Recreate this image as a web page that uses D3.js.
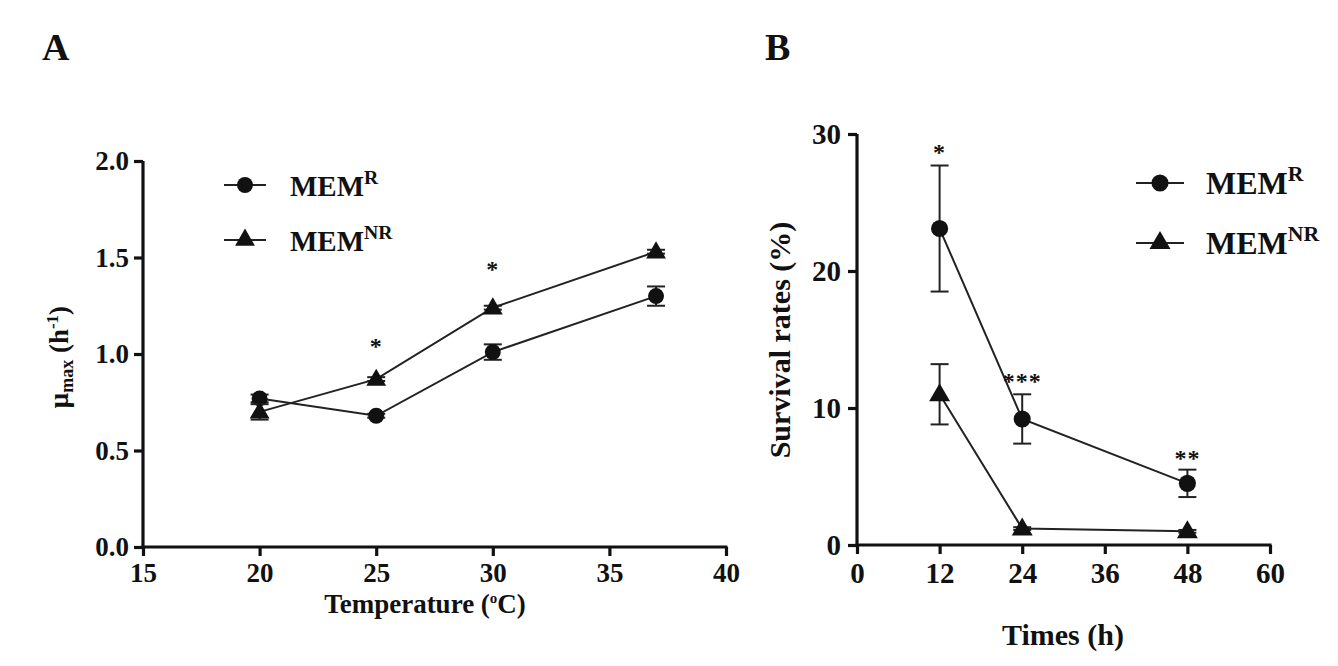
<!DOCTYPE html>
<html>
<head>
<meta charset="utf-8">
<script src="https://cdn.jsdelivr.net/npm/d3@7/dist/d3.min.js"></script>
<style>
  body { margin: 0; background: #fff; }
  text { font-family: "Liberation Serif", "Times New Roman", serif; font-weight: bold; fill: #111; }
</style>
</head>
<body>
<div id="chart"></div>
<script>
// panel A: growth rate vs temperature
var tempX = [20, 25, 30, 37];
var rMu = [0.77, 0.68, 1.01, 1.30];
var rMuErr = [0.02, 0.01, 0.04, 0.05];
var nrMu = [0.70, 0.87, 1.24, 1.53];
var nrMuErr = [0.04, 0.01, 0.01, 0.01];
var starsA = [{x: 25, y: 1.0, t: "*"}, {x: 30, y: 1.40, t: "*"}];
var tempTicks = [15, 20, 25, 30, 35, 40];
var muTicks = [0.0, 0.5, 1.0, 1.5, 2.0];

// panel B: survival vs time
var timeX = [12, 24, 48];
var rSurv = [23.1, 9.2, 4.5];
var rSurvErr = [4.6, 1.8, 1.0];
var nrSurv = [11.0, 1.2, 1.0];
var nrSurvErr = [2.2, 0.1, 0.1];
var starsB = [{x: 12, y: 28.1, t: "*"}, {x: 24, y: 11.4, t: "***"}, {x: 48, y: 5.8, t: "**"}];
var timeTicks = [0, 12, 24, 36, 48, 60];
var survTicks = [0, 10, 20, 30];

var W = 1338, H = 666;
var svg = d3.select("#chart").append("svg")
    .attr("width", W).attr("height", H);

function panel(o) {
    var x = d3.scaleLinear().domain(o.xdom).range([o.left, o.right]);
    var y = d3.scaleLinear().domain(o.ydom).range([o.bottom, o.top]);
    var g = svg.append("g");

    var xa = g.append("g").attr("transform", "translate(0," + o.bottom + ")")
        .call(d3.axisBottom(x).tickValues(o.xticks).tickSize(9).tickSizeOuter(0).tickPadding(o.xpad));
    var ya = g.append("g").attr("transform", "translate(" + o.left + ",0)")
        .call(d3.axisLeft(y).tickValues(o.yticks).tickSize(9).tickSizeOuter(0).tickPadding(o.ypad).tickFormat(o.yfmt));
    [xa, ya].forEach(function(a) {
        a.select(".domain").attr("stroke", "#111").attr("stroke-width", 3.2);
        a.selectAll(".tick line").attr("stroke", "#111").attr("stroke-width", 3.2);
        a.selectAll(".tick text").attr("font-size", o.tickFont).attr("fill", "#111")
            .attr("font-family", "Liberation Serif").attr("font-weight", "bold");
    });
    ya.select(".domain").attr("d", "M0," + (o.bottom + 1.5) + "V" + o.top);
    xa.select(".domain").attr("d", "M" + (o.left - 1.5) + ",0H" + (o.right + 1.5));

    var line = d3.line().x(function(d) { return x(d[0]); }).y(function(d) { return y(d[1]); });

    o.series.forEach(function(s) {
        var pts = o.xs.map(function(v, i) { return [v, s.v[i], s.e[i]]; });
        g.append("path").datum(pts).attr("d", line)
            .attr("fill", "none").attr("stroke", "#222").attr("stroke-width", 2);
        var eb = g.selectAll(null).data(pts).enter().append("g");
        eb.append("line")
            .attr("x1", function(d) { return x(d[0]); }).attr("x2", function(d) { return x(d[0]); })
            .attr("y1", function(d) { return y(d[1] + d[2]); }).attr("y2", function(d) { return y(d[1] - d[2]); })
            .attr("stroke", "#222").attr("stroke-width", 2);
        [1, -1].forEach(function(sg) {
            eb.append("line")
                .attr("x1", function(d) { return x(d[0]) - 9; }).attr("x2", function(d) { return x(d[0]) + 9; })
                .attr("y1", function(d) { return y(d[1] + sg * d[2]); }).attr("y2", function(d) { return y(d[1] + sg * d[2]); })
                .attr("stroke", "#222").attr("stroke-width", 2);
        });
        g.selectAll(null).data(pts).enter().append("path")
            .attr("d", d3.symbol().type(s.sym).size(s.size))
            .attr("transform", function(d) { return "translate(" + x(d[0]) + "," + (y(d[1]) + (s.sym === d3.symbolTriangle ? 1 : 0)) + ")"; })
            .attr("fill", "#111");
    });

    g.selectAll(null).data(o.stars).enter().append("text")
        .attr("x", function(d) { return x(d.x); })
        .attr("y", function(d) { return y(d.y); })
        .attr("text-anchor", "middle").attr("font-size", 24).attr("font-weight", "normal")
        .attr("fill", "#333").attr("letter-spacing", 1)
        .text(function(d) { return d.t; });

    // legend
    o.series.forEach(function(s, i) {
        var ly = o.legY + i * o.legGap;
        g.append("line").attr("x1", o.legX).attr("x2", o.legX + o.legLen)
            .attr("y1", ly).attr("y2", ly).attr("stroke", "#222").attr("stroke-width", 2);
        g.append("path").attr("d", d3.symbol().type(s.sym).size(s.size))
            .attr("transform", "translate(" + (o.legX + o.legLen / 2) + "," + ly + ")").attr("fill", "#111");
        var t = g.append("text").attr("x", o.legX + o.legLen + o.legPad).attr("y", ly + 11)
            .attr("font-size", o.legFont);
        t.append("tspan").text("MEM");
        t.append("tspan").attr("font-size", o.legFont * 0.68).attr("dy", -o.legFont * 0.4).text(s.sup);
    });

    // axis titles
    var xt = g.append("text").attr("x", o.xlabX).attr("y", o.xlabY)
        .attr("text-anchor", "middle").attr("font-size", o.labFont);
    o.xlab(xt);
    var yt = g.append("text")
        .attr("transform", "translate(" + o.ylabX + "," + o.ylabY + ") rotate(-90)")
        .attr("text-anchor", "middle").attr("font-size", o.labFont);
    o.ylab(yt);

    svg.append("text").attr("x", o.tagX).attr("y", o.tagY).attr("font-size", 38).text(o.tag);
}

panel({
    xdom: [15, 40], ydom: [0, 2], left: 143, right: 726, top: 161, bottom: 547,
    xticks: tempTicks, yticks: muTicks, yfmt: d3.format(".1f"),
    tickFont: 27, xpad: 7, ypad: 5, labFont: 27,
    xs: tempX,
    series: [
        {v: rMu, e: rMuErr, sym: d3.symbolCircle, size: 200, sup: "R"},
        {v: nrMu, e: nrMuErr, sym: d3.symbolTriangle, size: 170, sup: "NR"}
    ],
    stars: starsA,
    legX: 224, legY: 185, legGap: 55, legLen: 42, legPad: 24, legFont: 29,
    xlabX: 425, xlabY: 613,
    xlab: function(t) {
        t.append("tspan").text("Temperature (");
        t.append("tspan").attr("font-size", 15).attr("dy", -10).text("o");
        t.append("tspan").attr("dy", 10).text("C)");
    },
    ylabX: 68, ylabY: 357,
    ylab: function(t) {
        t.append("tspan").text("\u03bc");
        t.append("tspan").attr("font-size", 18).attr("dy", 5).text("max");
        t.append("tspan").attr("dy", -5).text(" (h");
        t.append("tspan").attr("font-size", 17).attr("dy", -10).text("-1");
        t.append("tspan").attr("dy", 10).text(")");
    },
    tag: "A", tagX: 42, tagY: 60
});

panel({
    xdom: [0, 60], ydom: [0, 30], left: 857, right: 1270, top: 134, bottom: 545,
    xticks: timeTicks, yticks: survTicks, yfmt: d3.format("d"),
    tickFont: 29, xpad: 8, ypad: 7, labFont: 30,
    xs: timeX,
    series: [
        {v: rSurv, e: rSurvErr, sym: d3.symbolCircle, size: 230, sup: "R"},
        {v: nrSurv, e: nrSurvErr, sym: d3.symbolTriangle, size: 190, sup: "NR"}
    ],
    stars: starsB,
    legX: 1136, legY: 183, legGap: 60, legLen: 48, legPad: 22, legFont: 32,
    xlabX: 1063, xlabY: 645,
    xlab: function(t) { t.text("Times (h)"); },
    ylabX: 790, ylabY: 340,
    ylab: function(t) { t.text("Survival rates (%)"); },
    tag: "B", tagX: 765, tagY: 60
});
</script>
</body>
</html>
